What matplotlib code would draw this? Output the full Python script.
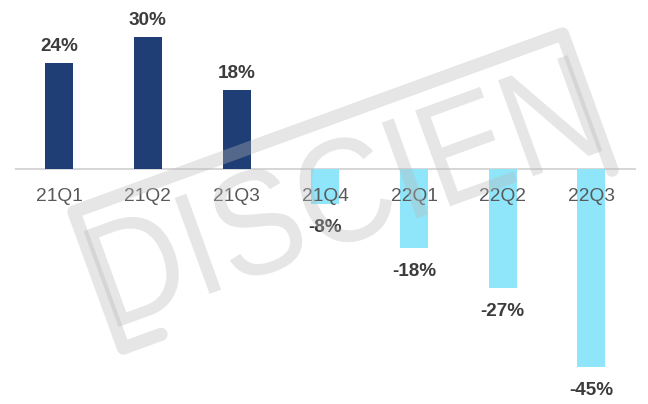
import matplotlib
matplotlib.use('Agg')
import matplotlib.pyplot as plt
from matplotlib.textpath import TextPath
from matplotlib.font_manager import FontProperties
from matplotlib.patches import PathPatch
from matplotlib.lines import Line2D
from matplotlib.transforms import Affine2D, IdentityTransform
import numpy as np

quarters = ['21Q1', '21Q2', '21Q3', '21Q4', '22Q1', '22Q2', '22Q3']
growth = [24, 30, 18, -8, -18, -27, -45]

POS_COLOR = '#1f3e75'
NEG_COLOR = '#8fe6fa'
WM_COLOR = '#b8b8b8'
W, H = 648, 404

plt.rcParams['font.family'] = ['Liberation Sans', 'DejaVu Sans']

fig = plt.figure(figsize=(W / 100, H / 100), dpi=100)
ax = fig.add_axes([0.023, 0.0, 0.958, 1.0])

x = list(range(len(quarters)))
colors = [POS_COLOR if v >= 0 else NEG_COLOR for v in growth]
ax.bar(x, growth, width=0.316, color=colors, zorder=2)
ax.axhline(0, color='#d0d0d0', lw=1.2, zorder=1)

for i, (q, v) in enumerate(zip(quarters, growth)):
    ax.annotate(q, (i, 0), xytext=(0, -23), textcoords='offset points',
                ha='center', va='baseline', fontsize=13.8, color='#595959', zorder=3)
    off = 8.8 if v >= 0 else -20
    ax.annotate(f'{v}%', (i, v), xytext=(0, off), textcoords='offset points',
                ha='center', va='baseline', fontsize=13.6, fontweight='bold',
                color='#3c3c3c', zorder=3)

ax.set_xlim(-0.5, 6.5)
ax.set_ylim(-53.4, 38.4)
ax.axis('off')

# watermark (pixel coords, y measured from the top)
ang = 20
cx, cy = 343, 191
tp = TextPath((0, 0), 'DISCIEN', size=1, prop=FontProperties(family='Liberation Sans'))
ext = tp.get_extents()
tw, th = 515, 105
tr = (Affine2D()
      .translate(-(ext.x0 + ext.x1) / 2, -(ext.y0 + ext.y1) / 2)
      .scale(tw / ext.width, th / ext.height)
      .rotate_deg(ang)
      .translate(cx, H - cy))
fig.patches.append(PathPatch(tr.transform_path(tp), fc=WM_COLOR, ec='none',
                             alpha=0.35, transform=IdentityTransform(), zorder=10))

# frame around the logo
fw, fh = 520, 145
rot = np.deg2rad(ang)
u = np.array([np.cos(rot), np.sin(rot)])
v = np.array([np.sin(rot), -np.cos(rot)])
c = np.array([cx, H - cy])
tl = c - u * fw / 2 - v * fh / 2
trc = c + u * fw / 2 - v * fh / 2
bl = c - u * fw / 2 + v * fh / 2
br = c + u * fw / 2 + v * fh / 2
pts = np.array([bl + u * 40, bl, tl, trc, br])
fig.lines.append(Line2D(pts[:, 0], pts[:, 1], color=WM_COLOR, lw=9.5, alpha=0.35,
                        solid_joinstyle='round', solid_capstyle='round',
                        transform=IdentityTransform(), zorder=10))

fig.savefig('out.png', dpi=100)
